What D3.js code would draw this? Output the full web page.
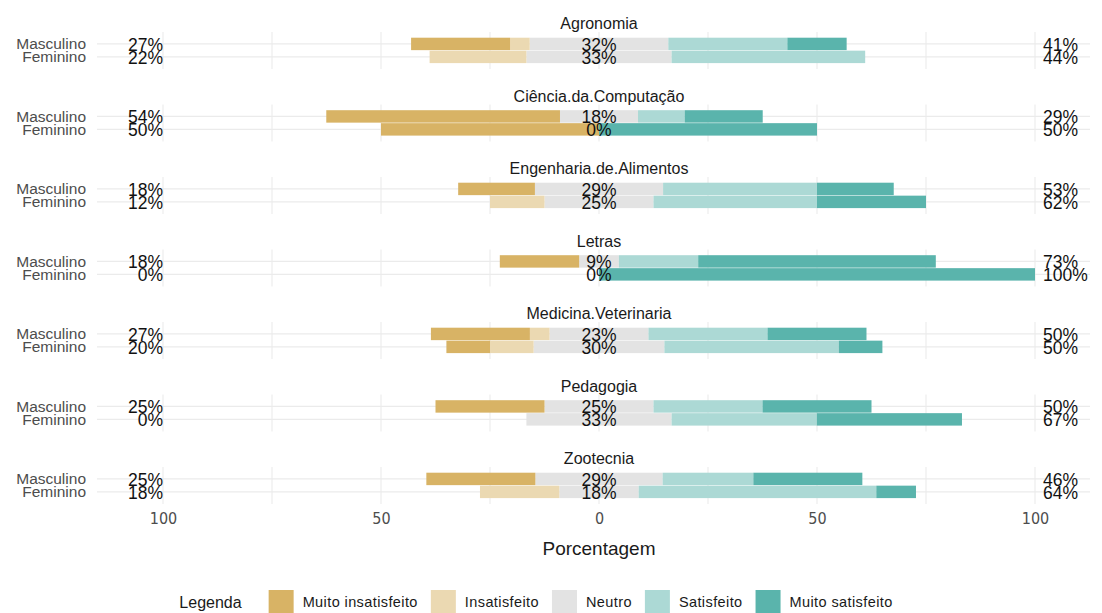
<!DOCTYPE html>
<html>
<head>
<meta charset="utf-8">
<script src="https://cdn.jsdelivr.net/npm/d3@7/dist/d3.min.js"></script>
<style>
  html, body { margin: 0; padding: 0; background: #ffffff; }
  svg { display: block; font-family: "Liberation Sans", Arial, sans-serif; }
</style>
</head>
<body>
<svg id="chart" width="1102" height="613"></svg>
<script>
// ---------- DATA ----------
const cursos = ["Agronomia", "Ciência.da.Computação", "Engenharia.de.Alimentos", "Letras",
                "Medicina.Veterinaria", "Pedagogia", "Zootecnia"];
const generos = ["Masculino", "Feminino"];
const niveis = ["Muito insatisfeito", "Insatisfeito", "Neutro", "Satisfeito", "Muito satisfeito"];

// percent values, order: for each curso -> Masculino, Feminino
const muitoInsatisfeito = [22.7, 0,   53.6, 50,  17.6, 0,    18.2, 0,   22.7, 10, 25, 0,    25,   0];
const insatisfeito      = [4.5,  22.2, 0,   0,   0,    12.5, 0,    0,   4.5,  10, 0,  0,    0,    18.2];
const neutro            = [31.8, 33.3, 17.9, 0,  29.4, 25,   9.1,  0,   22.7, 30, 25, 33.3, 29.2, 18.2];
const satisfeito        = [27.3, 44.4, 10.7, 0,  35.3, 37.5, 18.2, 0,   27.3, 40, 25, 33.3, 20.8, 54.5];
const muitoSatisfeito   = [13.6, 0,    17.9, 50, 17.6, 25,   54.5, 100, 22.7, 10, 25, 33.3, 25,   9.1];

const rotuloBaixo  = ["27%", "22%", "54%", "50%", "18%", "12%", "18%", "0%", "27%", "20%", "25%", "0%", "25%", "18%"];
const rotuloNeutro = ["32%", "33%", "18%", "0%", "29%", "25%", "9%", "0%", "23%", "30%", "25%", "33%", "29%", "18%"];
const rotuloAlto   = ["41%", "44%", "29%", "50%", "53%", "62%", "73%", "100%", "50%", "50%", "50%", "67%", "46%", "64%"];

const ticksX = [-100, -50, 0, 50, 100];
const ticksXLabels = ["100", "50", "0", "50", "100"];
const gridX = [-100, -75, -50, -25, 0, 25, 50, 75, 100];

const cores = ["#D8B365", "#EBD9B2", "#E3E3E3", "#ACD9D5", "#5AB4AC"];

// ---------- LAYOUT ----------
const svg = d3.select("#chart");
const W = 1102;
const x = d3.scaleLinear().domain([-100, 100]).range([163, 1035]);
const panelLeft = 97, panelRight = 1090;

const facet = d3.scaleBand().domain(cursos).range([6, 6 + 7 * 72.5]);
const FONT_NARROW = '"Liberation Sans Narrow", "DejaVu Sans Condensed", "Liberation Sans", sans-serif';

// build rows
const rows = [];
cursos.forEach((c, ci) => {
  generos.forEach((g, gi) => {
    const i = ci * 2 + gi;
    rows.push({
      curso: c, genero: g, i,
      vals: [muitoInsatisfeito[i], insatisfeito[i], neutro[i], satisfeito[i], muitoSatisfeito[i]]
    });
  });
});

const color = d3.scaleOrdinal().domain(niveis).range(cores);

cursos.forEach((c) => {
  const top = facet(c);
  const g = svg.append("g");
  const yb = d3.scaleBand().domain(generos).range([top + 31.7, top + 57.1]).paddingInner(0.04);
  const panelTop = top + 26, panelBot = top + 63;

  // horizontal grid lines
  generos.forEach(gn => {
    const yy = yb(gn) + yb.bandwidth() / 2;
    g.append("line").attr("x1", panelLeft).attr("x2", panelRight)
      .attr("y1", yy).attr("y2", yy).attr("stroke", "#EBEBEB").attr("stroke-width", 1.1);
  });
  // vertical grid lines
  gridX.forEach(v => {
    g.append("line").attr("x1", x(v)).attr("x2", x(v))
      .attr("y1", panelTop).attr("y2", panelBot).attr("stroke", "#EBEBEB").attr("stroke-width", 1.1);
  });

  // strip title
  g.append("text").attr("x", x(0)).attr("y", top + 19)
    .attr("text-anchor", "middle").attr("dominant-baseline", "middle")
    .attr("font-size", 16).attr("fill", "#1a1a1a").text(c);

  // bars
  rows.filter(r => r.curso === c).forEach(r => {
    const y0 = yb(r.genero), h = yb.bandwidth();
    const half = r.vals[2] / 2;
    const segs = [];
    let cur = -half;
    segs.push({ k: 2, a: -half, b: 0 });
    segs.push({ k: 1, a: cur - r.vals[1], b: cur }); cur -= r.vals[1];
    segs.push({ k: 0, a: cur - r.vals[0], b: cur });
    segs.push({ k: 2, a: 0, b: half });
    cur = half;
    segs.push({ k: 3, a: cur, b: cur + r.vals[3] }); cur += r.vals[3];
    segs.push({ k: 4, a: cur, b: cur + r.vals[4] });
    segs.filter(s => s.b - s.a > 0).forEach(s => {
      g.append("rect")
        .attr("x", x(s.a)).attr("width", x(s.b) - x(s.a))
        .attr("y", y0).attr("height", h)
        .attr("fill", color(niveis[s.k]));
    });
  });

  // y labels & percentages
  rows.filter(r => r.curso === c).forEach(r => {
    const yy = yb(r.genero) + yb.bandwidth() / 2;
    g.append("text").attr("x", 86).attr("y", yy)
      .attr("text-anchor", "end").attr("dominant-baseline", "central")
      .attr("font-size", 15.5).attr("fill", "#4d4d4d").text(r.genero);
    g.append("text").attr("x", x(-100)).attr("y", yy + 1)
      .attr("text-anchor", "end").attr("dominant-baseline", "central")
      .attr("font-size", 17.5).attr("fill", "#111").text(rotuloBaixo[r.i]);
    g.append("text").attr("x", x(0)).attr("y", yy + 1)
      .attr("text-anchor", "middle").attr("dominant-baseline", "central")
      .attr("font-size", 17.5).attr("fill", "#111").text(rotuloNeutro[r.i]);
    g.append("text").attr("x", x(100) + 8).attr("y", yy + 1)
      .attr("text-anchor", "start").attr("dominant-baseline", "central")
      .attr("font-size", 17.5).attr("fill", "#111").text(rotuloAlto[r.i]);
  });
});

// x axis
const axis = d3.axisBottom(x).tickValues(ticksX)
  .tickFormat((d, i) => ticksXLabels[i]).tickSize(0).tickPadding(0);
const ax = svg.append("g").attr("transform", "translate(0,513)").call(axis);
ax.select(".domain").remove();
ax.selectAll("text").attr("font-size", 16).attr("fill", "#4d4d4d")
  .attr("font-family", FONT_NARROW).attr("dy", "0.71em");

svg.append("text").attr("x", x(0)).attr("y", 548)
  .attr("text-anchor", "middle").attr("dominant-baseline", "central")
  .attr("font-size", 19).attr("fill", "#1a1a1a").text("Porcentagem");

// legend
const leg = svg.append("g");
const legY = 602;
let lx = 0;
const lt = leg.append("text").attr("x", lx).attr("y", legY)
  .attr("dominant-baseline", "central").attr("font-size", 16).attr("fill", "#1a1a1a").text("Legenda");
lx += lt.node().getComputedTextLength() + 27;
niveis.forEach((n, i) => {
  leg.append("rect").attr("x", lx).attr("y", legY - 12).attr("width", 25).attr("height", 24)
    .attr("fill", color(n));
  lx += 25 + 9;
  const t = leg.append("text").attr("x", lx).attr("y", legY)
    .attr("dominant-baseline", "central").attr("font-size", 14.5)
    .attr("letter-spacing", 0.4).attr("fill", "#1a1a1a").text(n);
  lx += t.node().getComputedTextLength() + (i < niveis.length - 1 ? 13 : 0);
});
const legW = lx;
leg.attr("transform", `translate(${536 - legW / 2},0)`);
</script>
</body>
</html>
